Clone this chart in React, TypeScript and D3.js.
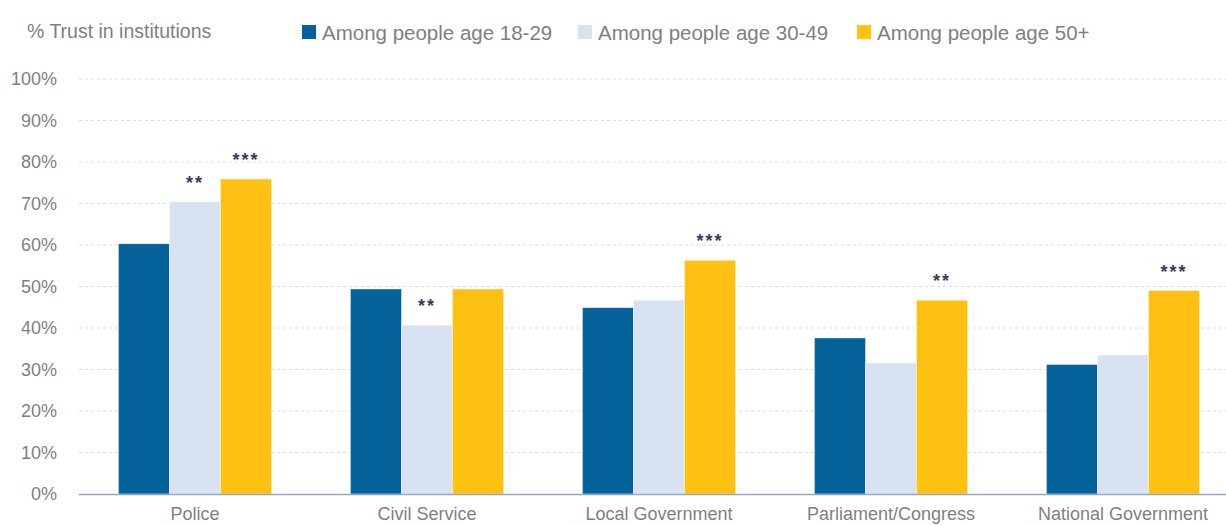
import React from "react";
import * as d3 from "d3";

const categories = ["Police", "Civil Service", "Local Government", "Parliament/Congress", "National Government"];
const seriesNames = ["Among people age 18-29", "Among people age 30-49", "Among people age 50+"];
const age18to29 = [60.3, 49.4, 44.9, 37.6, 31.2];
const age30to49 = [70.4, 40.7, 46.7, 31.6, 33.5];
const age50plus = [75.9, 49.4, 56.3, 46.7, 49.0];
const marks18to29 = ["", "", "", "", ""];
const marks30to49 = ["**", "**", "", "", ""];
const marks50plus = ["***", "", "***", "**", "***"];
const yTicks = [0, 10, 20, 30, 40, 50, 60, 70, 80, 90, 100];
const colors = ["#05629a", "#d9e2f3", "#fec111"];
const title = "% Trust in institutions";

const W = 1226;
const H = 525;
const FONT = "'Liberation Sans', Arial, sans-serif";

export default function App() {
  const series = [age18to29, age30to49, age50plus];
  const marks = [marks18to29, marks30to49, marks50plus];
  const x0 = d3.scaleBand<string>().domain(categories).range([79, 1239]).paddingInner(0.34).paddingOuter(0.17);
  const x1 = d3.scaleBand<number>().domain([0, 1, 2]).range([0, x0.bandwidth()]).padding(0);
  const y = d3.scaleLinear().domain([0, 100]).range([494, 79]);
  const legendX = [302, 578, 857];

  return (
    <svg width={W} height={H} style={{ position: "absolute", left: 0, top: 0, background: "#fff" }} fontFamily={FONT}>
      <rect x={0} y={0} width={W} height={H} fill="#fff" />
      <text x={27} y={38} fontSize={19.5} fill="#7f7f7f">{title}</text>
      {seriesNames.map((n, i) => (
        <g key={n}>
          <rect x={legendX[i]} y={25} width={14} height={14} fill={colors[i]} />
          <text x={legendX[i] + 20} y={39.5} fontSize={20.5} fill="#7f7f7f">{n}</text>
        </g>
      ))}
      {yTicks.map((t) => (
        <g key={t}>
          {t > 0 && (
            <line x1={79} x2={W} y1={y(t)} y2={y(t)} stroke="#dcdcdc" strokeWidth={1} strokeDasharray="3,3" />
          )}
          <text x={57} y={y(t)} dy="0.35em" textAnchor="end" fontSize={18} fill="#7f7f7f">{t}%</text>
        </g>
      ))}
      {categories.map((c, ci) => (
        <g key={c} transform={`translate(${x0(c)},0)`}>
          {series.map((s, si) => (
            <rect
              key={si}
              x={x1(si)}
              y={y(s[ci])}
              width={x1.bandwidth()}
              height={y(0) - y(s[ci])}
              fill={colors[si]}
              stroke="#ffffff"
              strokeOpacity={0.5}
              strokeWidth={0.8}
            />
          ))}
          {marks.map((m, si) =>
            m[ci] ? (
              <text
                key={"m" + si}
                x={(x1(si) as number) + x1.bandwidth() / 2}
                y={y(series[si][ci]) - 13}
                textAnchor="middle"
                fontSize={18}
                fontWeight="bold"
                letterSpacing={2}
                fill="#3a3a62"
              >
                {m[ci]}
              </text>
            ) : null
          )}
          <text x={x0.bandwidth() / 2} y={520} textAnchor="middle" fontSize={18} fill="#7f7f7f">{c}</text>
        </g>
      ))}
      <line x1={79} x2={W} y1={y(0) + 0.5} y2={y(0) + 0.5} stroke="#8ea9c1" strokeWidth={1.5} />
    </svg>
  );
}
